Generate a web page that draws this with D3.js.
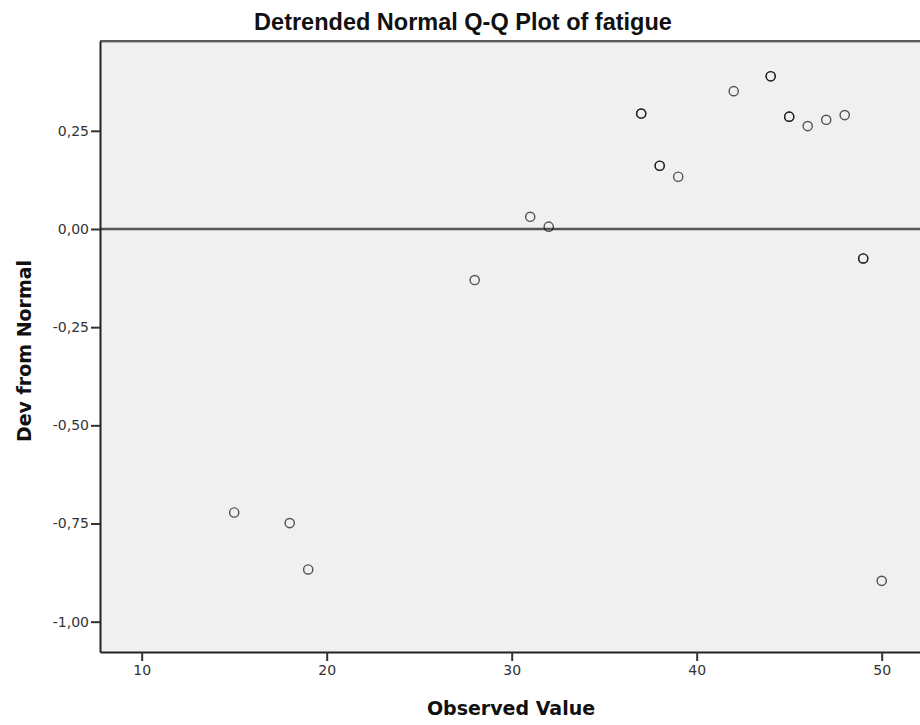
<!DOCTYPE html>
<html>
<head>
<meta charset="utf-8">
<script src="https://cdn.jsdelivr.net/npm/d3@7"></script>
<style>
  body { margin: 0; background: #fff; }
  svg { display: block; }
</style>
</head>
<body>
<svg id="chart"></svg>
<script>
// values
var observed = [15, 18, 19, 28, 31, 32, 37, 38, 39, 42, 44, 45, 46, 47, 48, 49, 50];
var devFromNormal = [-0.722, -0.749, -0.867, -0.130, 0.031, 0.006, 0.294, 0.161, 0.133,
                     0.351, 0.389, 0.286, 0.262, 0.278, 0.290, -0.075, -0.896];
// tied cases plotted on top of each other
var counts = [1, 1, 1, 1, 1, 1, 2, 2, 1, 1, 2, 2, 1, 1, 1, 2, 1];
var xTicks = [10, 20, 30, 40, 50];
var yTicks = [0.25, 0, -0.25, -0.5, -0.75, -1];

var width = 920, height = 725;
var plotLeft = 100, plotRight = 920, plotTop = 41, plotBottom = 652;

var points = [];
observed.forEach(function (v, i) {
    for (var k = 0; k < counts[i]; k++) points.push({x: v, y: devFromNormal[i]});
});

var svg = d3.select('#chart')
    .attr('width', width)
    .attr('height', height);

var x = d3.scaleLinear()
    .domain([7.746, 52.07])
    .range([plotLeft, plotRight]);

var y = d3.scaleLinear()
    .domain([-1.0772, 0.4787])
    .range([plotBottom, plotTop]);

var locale = d3.formatLocale({
    decimal: ',', thousands: '.', grouping: [3], currency: ['', ''], minus: '-'
});
var fmt = locale.format('.2f');

// plot background
svg.append('rect')
    .attr('x', plotLeft)
    .attr('y', plotTop)
    .attr('width', plotRight - plotLeft)
    .attr('height', plotBottom - plotTop)
    .style('fill', '#f0f0f0');

// top frame
svg.append('line')
    .attr('x1', plotLeft).attr('x2', plotRight)
    .attr('y1', plotTop).attr('y2', plotTop)
    .style('stroke', '#5a5a5a')
    .style('stroke-width', 2);
svg.append('line')
    .attr('x1', plotLeft).attr('x2', plotRight)
    .attr('y1', plotTop + 1.5).attr('y2', plotTop + 1.5)
    .style('stroke', '#b5b5b5')
    .style('stroke-width', 1);

// reference line at zero
svg.append('line')
    .attr('x1', plotLeft).attr('x2', plotRight)
    .attr('y1', y(0)).attr('y2', y(0))
    .style('stroke', '#555')
    .style('stroke-width', 2.4);

svg.append('g')
    .selectAll('circle')
    .data(points)
    .enter().append('circle')
    .attr('cx', function (d) { return x(d.x); })
    .attr('cy', function (d) { return y(d.y); })
    .attr('r', 4.6)
    .style('fill', 'none')
    .style('stroke', '#000')
    .style('stroke-opacity', 0.66)
    .style('stroke-width', 1.4);

var yAxis = d3.axisLeft(y)
    .tickValues(yTicks)
    .tickFormat(fmt)
    .tickSize(9)
    .tickSizeOuter(0)
    .tickPadding(2);

var xAxis = d3.axisBottom(x)
    .tickValues(xTicks)
    .tickFormat(d3.format('d'))
    .tickSize(9)
    .tickSizeOuter(0)
    .tickPadding(4);

var gy = svg.append('g')
    .attr('transform', 'translate(' + plotLeft + ',0)')
    .call(yAxis);

var gx = svg.append('g')
    .attr('transform', 'translate(0,' + plotBottom + ')')
    .call(xAxis);

[gx, gy].forEach(function (g) {
    g.select('.domain').style('stroke', '#222').style('stroke-width', 2);
    g.selectAll('.tick line').style('stroke', '#333').style('stroke-width', 2);
    g.selectAll('.tick text')
        .style('font-family', '"DejaVu Sans", Verdana, sans-serif')
        .style('font-size', '14px')
        .style('fill', '#333');
});

svg.append('text')
    .attr('x', 463)
    .attr('y', 30)
    .attr('text-anchor', 'middle')
    .style('font-family', '"Liberation Sans", Arial, sans-serif')
    .style('font-weight', 'bold')
    .style('font-size', '23.5px')
    .style('fill', '#111')
    .text('Detrended Normal Q-Q Plot of fatigue');

svg.append('text')
    .attr('x', 511)
    .attr('y', 715)
    .attr('text-anchor', 'middle')
    .style('font-family', '"DejaVu Sans", Verdana, sans-serif')
    .style('font-weight', 'bold')
    .style('font-size', '19px')
    .style('fill', '#111')
    .text('Observed Value');

svg.append('text')
    .attr('transform', 'translate(31,351) rotate(-90)')
    .attr('text-anchor', 'middle')
    .style('font-family', '"DejaVu Sans", Verdana, sans-serif')
    .style('font-weight', 'bold')
    .style('font-size', '19px')
    .style('fill', '#111')
    .text('Dev from Normal');
</script>
</body>
</html>
